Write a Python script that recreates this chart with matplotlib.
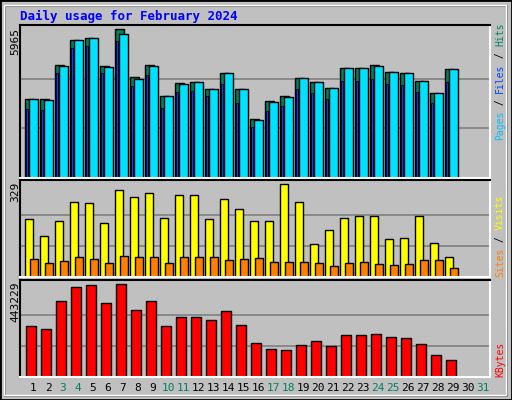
import matplotlib
matplotlib.use('Agg')
import matplotlib.pyplot as plt
from matplotlib.patches import Rectangle

days = list(range(1, 30))
hits = [3167, 3167, 4507, 5522, 5603, 4466, 5965, 4060, 4507, 3289, 3816, 3857, 3573, 4222, 3573,
        2355, 3086, 3289, 4019, 3857, 3613, 4425, 4425, 4507, 4263, 4222, 3898, 3410, 4385]
files = [3150, 3140, 4500, 5510, 5600, 4440, 5765, 3980, 4500, 3270, 3780, 3850, 3560, 4210, 3560,
         2340, 3060, 3250, 3990, 3840, 3600, 4410, 4410, 4490, 4250, 4200, 3880, 3400, 4370]
pages = [2760, 2720, 4222, 5197, 5278, 4222, 5481, 3695, 4141, 2800, 3451, 3492, 3289, 3776, 3004,
         2030, 2700, 2900, 3550, 3400, 3180, 3900, 3900, 3970, 3750, 3720, 3430, 3000, 3860]
visits = [204, 147, 200, 265, 261, 190, 308, 283, 297, 211, 290, 290, 204, 276, 240,
          197, 200, 329, 265, 118, 165, 208, 218, 218, 136, 140, 218, 122, 72]
sites = [64, 50, 57, 72, 64, 50, 75, 72, 72, 50, 72, 72, 72, 61, 64,
         68, 54, 54, 54, 50, 39, 50, 54, 47, 43, 47, 61, 61, 32]
kbytes = [243500, 229000, 360400, 428600, 438400, 350700, 443229, 321500, 360400, 243500, 287400,
          287400, 272800, 316600, 248400, 160700, 131500, 126600, 151000, 170500, 146100, 199700,
          199700, 204600, 190000, 185100, 155900, 107200, 82800]
weekend = [3, 4, 10, 11, 17, 18, 24, 25, 31]

W, H = 512, 400
fig = plt.figure(figsize=(W / 100, H / 100), dpi=100)
fig.patch.set_facecolor('#c0c0c0')
mono = 'DejaVu Sans Mono'

# outer frame
fig.add_artist(Rectangle((0, 0), 1, 1, transform=fig.transFigure, fill=False, ec='black', lw=2))
fig.add_artist(Rectangle((5 / W, 4 / H), (W - 10) / W, (H - 10) / H, transform=fig.transFigure,
                         fill=False, ec='#808080', lw=1.5))
fig.add_artist(Rectangle((4 / W, 5 / H), (W - 10) / W, (H - 10) / H, transform=fig.transFigure,
                         fill=False, ec='white', lw=1))


def make_ax(top, bottom, ymax, peak):
    ax = fig.add_axes([20 / W, 1 - bottom / H, 470 / W, (bottom - top) / H])
    ax.set_facecolor('#c0c0c0')
    ax.set_xlim(0.13, 31.46)
    ax.set_ylim(0, ymax)
    for g in (peak / 3, 2 * peak / 3):
        ax.axhline(g, color='#808080', lw=1.2, zorder=0)
    ax.set_xticks([])
    ax.set_yticks([])
    ax.spines['top'].set_color('black')
    ax.spines['left'].set_color('black')
    ax.spines['bottom'].set_color('white')
    ax.spines['right'].set_color('white')
    for s in ax.spines.values():
        s.set_linewidth(1.5)
    return ax


ax1 = make_ax(25, 178, 5965 * 151 / 147, 5965)
ax1.bar([d - 0.53 for d in days], hits, width=0.62, align='edge', color='#00805c', ec='black', lw=1)
ax1.bar([d - 0.27 for d in days], files, width=0.6, align='edge', color='#00e0ff', ec='black', lw=1)
ax1.bar([d - 0.45 for d in days], pages, width=0.14, align='edge', color='#0040ff', ec='black', lw=0.6)

ax2 = make_ax(180, 277, 344, 329)
ax2.bar([d - 0.53 for d in days], visits, width=0.55, align='edge', color='#ffff00', ec='black', lw=1)
ax2.bar([d - 0.2 for d in days], sites, width=0.55, align='edge', color='#ff8000', ec='black', lw=1)

ax3 = make_ax(280, 377, 462700, 443229)
ax3.bar([d - 0.5 for d in days], kbytes, width=0.7, align='edge', color='#ff0000', ec='black', lw=1)

fig.text(20 / W, 1 - 16 / H, 'Daily usage for February 2024', color='#0000ff', family=mono,
         weight='bold', fontsize=9, va='center')

for label, y in (('5965', 28), ('329', 182), ('443229', 282)):
    fig.text(15 / W, 1 - y / H, label, rotation=90, family=mono, fontsize=8, ha='center', va='top')

for d in range(1, 32):
    x = 20 + (d - 0.13) * 470 / 31.33
    fig.text(x / W, 1 - 388 / H, str(d), family=mono, fontsize=8, ha='center', va='center',
             color='#00805c' if d in weekend else 'black')


def side_label(parts, y_bottom):
    # parts read bottom to top
    y = y_bottom
    for txt, col in parts:
        fig.text(500 / W, 1 - y / H, txt, rotation=90, family=mono, fontsize=7, color=col,
                 ha='center', va='bottom')
        y -= len(txt) * 5.85


side_label([('Pages', '#00c0ff'), (' / ', 'black'), ('Files', '#0040ff'), (' / ', 'black'),
            ('Hits', '#00805c')], 140)
side_label([('Sites', '#ff8000'), (' / ', 'black'), ('Visits', '#ffff00')], 277)
side_label([('KBytes', '#ff0000')], 377)

fig.savefig('out.png', dpi=100, facecolor=fig.get_facecolor())
